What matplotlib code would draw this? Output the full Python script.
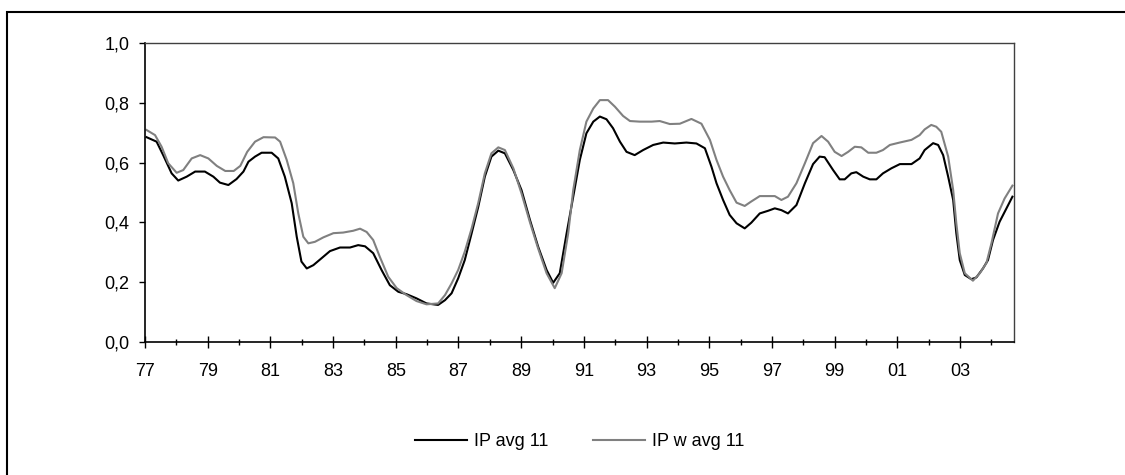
import matplotlib
matplotlib.use("Agg")
import matplotlib.pyplot as plt
from matplotlib.patches import Rectangle
from matplotlib.ticker import FixedLocator, FuncFormatter

# IP avg 11 (black)
ip_years = [77.05, 77.37, 77.58, 77.85, 78.06, 78.33, 78.60, 78.91, 79.18, 79.39,
            79.66, 79.92, 80.14, 80.30, 80.51, 80.72, 81.04, 81.25, 81.46, 81.68,
            81.84, 81.99, 82.16, 82.37, 82.63, 82.90, 83.22, 83.54, 83.80, 84.02,
            84.28, 84.55, 84.81, 85.08, 85.34, 85.66, 85.98, 86.35, 86.57, 86.78,
            86.99, 87.20, 87.42, 87.63, 87.84, 88.05, 88.27, 88.48, 88.75, 89.01,
            89.28, 89.54, 89.81, 90.02, 90.23, 90.45, 90.66, 90.87, 91.08, 91.30,
            91.51, 91.72, 91.93, 92.15, 92.36, 92.62, 92.89, 93.21, 93.53, 93.90,
            94.27, 94.59, 94.86, 95.07, 95.23, 95.44, 95.65, 95.87, 96.13, 96.34,
            96.61, 96.88, 97.09, 97.30, 97.51, 97.78, 98.05, 98.31, 98.52, 98.68,
            98.95, 99.16, 99.32, 99.53, 99.69, 99.91, 100.12, 100.33, 100.54, 100.81,
            101.08, 101.45, 101.71, 101.87, 102.14, 102.30, 102.46, 102.62, 102.78, 102.88,
            102.99, 103.15, 103.36, 103.52, 103.73, 103.89, 104.05, 104.26, 104.48, 104.67]
ip_avg = [0.685, 0.670, 0.625, 0.564, 0.540, 0.553, 0.570, 0.570, 0.553, 0.533,
          0.525, 0.545, 0.570, 0.603, 0.620, 0.633, 0.633, 0.614, 0.553, 0.464,
          0.352, 0.269, 0.246, 0.257, 0.280, 0.304, 0.316, 0.316, 0.324, 0.320,
          0.297, 0.240, 0.190, 0.168, 0.160, 0.146, 0.129, 0.124, 0.140, 0.163,
          0.213, 0.274, 0.364, 0.452, 0.553, 0.620, 0.640, 0.631, 0.575, 0.508,
          0.408, 0.319, 0.241, 0.198, 0.230, 0.364, 0.486, 0.609, 0.698, 0.737,
          0.754, 0.745, 0.715, 0.670, 0.636, 0.625, 0.642, 0.659, 0.667, 0.664,
          0.667, 0.664, 0.648, 0.586, 0.531, 0.475, 0.425, 0.397, 0.380, 0.399,
          0.430, 0.439, 0.447, 0.441, 0.430, 0.458, 0.531, 0.595, 0.620, 0.618,
          0.575, 0.544, 0.544, 0.564, 0.568, 0.553, 0.544, 0.544, 0.564, 0.581,
          0.595, 0.595, 0.614, 0.642, 0.665, 0.659, 0.625, 0.553, 0.475, 0.364,
          0.274, 0.224, 0.210, 0.216, 0.246, 0.274, 0.341, 0.402, 0.447, 0.486]

# IP w avg 11 (grey)
ipw_years = [77.05, 77.32, 77.53, 77.74, 78.01, 78.22, 78.49, 78.76, 79.02, 79.29,
             79.56, 79.83, 80.04, 80.26, 80.51, 80.78, 81.15, 81.31, 81.52, 81.73,
             81.89, 82.05, 82.21, 82.42, 82.69, 83.01, 83.32, 83.64, 83.86, 84.07,
             84.28, 84.49, 84.76, 85.03, 85.34, 85.66, 85.98, 86.35, 86.57, 86.78,
             86.99, 87.20, 87.42, 87.63, 87.84, 88.05, 88.27, 88.48, 88.75, 89.01,
             89.28, 89.54, 89.81, 90.07, 90.29, 90.50, 90.66, 90.87, 91.08, 91.30,
             91.51, 91.77, 91.99, 92.25, 92.47, 92.78, 93.16, 93.42, 93.74, 94.06,
             94.43, 94.75, 95.02, 95.23, 95.44, 95.65, 95.87, 96.13, 96.34, 96.61,
             97.09, 97.30, 97.51, 97.78, 98.05, 98.31, 98.58, 98.79, 99.00, 99.22,
             99.43, 99.64, 99.85, 100.07, 100.33, 100.54, 100.76, 101.07, 101.45, 101.71,
             101.87, 102.08, 102.24, 102.40, 102.62, 102.78, 102.88, 102.99, 103.15, 103.41,
             103.63, 103.84, 104.00, 104.21, 104.42, 104.67]
ipw_avg = [0.709, 0.692, 0.653, 0.598, 0.566, 0.575, 0.614, 0.625, 0.614, 0.589,
           0.572, 0.572, 0.589, 0.636, 0.670, 0.685, 0.684, 0.670, 0.609, 0.531,
           0.430, 0.352, 0.330, 0.335, 0.350, 0.364, 0.366, 0.372, 0.379, 0.368,
           0.341, 0.285, 0.218, 0.180, 0.157, 0.137, 0.126, 0.129, 0.157, 0.196,
           0.241, 0.302, 0.380, 0.465, 0.564, 0.631, 0.651, 0.642, 0.581, 0.497,
           0.400, 0.313, 0.230, 0.180, 0.230, 0.364, 0.508, 0.642, 0.737, 0.781,
           0.809, 0.809, 0.787, 0.756, 0.739, 0.737, 0.737, 0.739, 0.729, 0.730,
           0.746, 0.730, 0.676, 0.609, 0.553, 0.508, 0.466, 0.455, 0.470, 0.488,
           0.488, 0.475, 0.486, 0.531, 0.598, 0.665, 0.689, 0.670, 0.636, 0.622,
           0.636, 0.653, 0.651, 0.633, 0.633, 0.642, 0.659, 0.667, 0.676, 0.692,
           0.711, 0.726, 0.720, 0.703, 0.620, 0.508, 0.397, 0.297, 0.230, 0.205,
           0.230, 0.264, 0.330, 0.430, 0.480, 0.523]

year_ticks = [77, 79, 81, 83, 85, 87, 89, 91, 93, 95, 97, 99, 101, 103]
year_labels = ["77", "79", "81", "83", "85", "87", "89", "91", "93", "95",
               "97", "99", "01", "03"]
value_ticks = [0.0, 0.2, 0.4, 0.6, 0.8, 1.0]

plt.rcParams['font.family'] = ['Liberation Sans', 'DejaVu Sans']

fig = plt.figure(figsize=(11.25, 4.75), dpi=100)
ax = fig.add_axes([145 / 1125, 1 - 342 / 475, (1014 - 145) / 1125, (342 - 43) / 475])

ax.plot(ip_years, ip_avg, color='black', lw=1.5, label='IP avg 11')
ax.plot(ipw_years, ipw_avg, color='#808080', lw=1.5, label='IP w avg 11')

ax.set_xlim(77, 104.72)
ax.set_ylim(0, 1.0)

ax.set_xticks(year_ticks)
ax.set_xticklabels(year_labels)
ax.xaxis.set_minor_locator(FixedLocator([t + 1 for t in year_ticks]))
ax.set_yticks(value_ticks)
ax.yaxis.set_major_formatter(FuncFormatter(lambda v, p: f"{v:.1f}".replace('.', ',')))

ax.tick_params(axis='x', which='major', direction='inout', length=8.5, width=1,
               labelsize=13, pad=11)
ax.tick_params(axis='x', which='minor', direction='inout', length=5, width=1)
ax.tick_params(axis='y', which='major', direction='out', length=4, width=1,
               labelsize=13, pad=7)
for side in ['left', 'bottom']:
    ax.spines[side].set_linewidth(1.2)
for side in ['top', 'right']:
    ax.spines[side].set_linewidth(1.0)
    ax.spines[side].set_color('#404040')

fig.legend(loc='center', bbox_to_anchor=(579.5 / 1125, 33 / 475), ncol=2,
           frameon=False, fontsize=13, handlelength=2.9, handletextpad=0.35,
           columnspacing=2.5)

# outer chart border (top and left edges visible)
fig.patches.append(Rectangle((7 / 1125, -0.1), 1.2, 1.1 - 12 / 475 + 0.0,
                             transform=fig.transFigure, fill=False,
                             edgecolor='black', lw=1.5, clip_on=False))

fig.savefig('out.png', dpi=100)
